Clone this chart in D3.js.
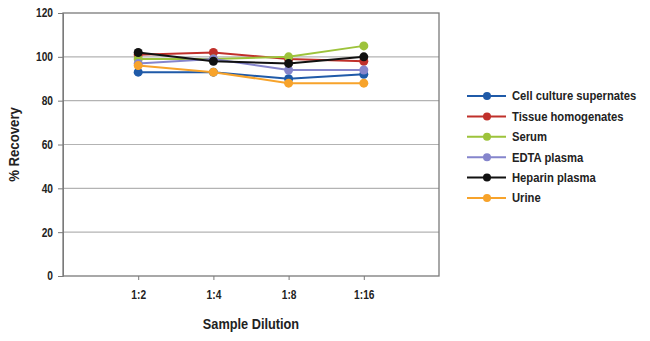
<!DOCTYPE html>
<html><head><meta charset="utf-8">
<script src="https://cdn.jsdelivr.net/npm/d3@7"></script>
<style>body{margin:0;background:#fff;}
text{font-family:"Liberation Sans",Arial,sans-serif;font-weight:bold;fill:#222;}
.sl{transform-box:fill-box;transform:scaleX(0.9);transform-origin:left center;}
.sr{transform-box:fill-box;transform:scaleX(0.85);transform-origin:right center;}
.sc{transform-box:fill-box;transform:scaleX(0.85);transform-origin:center center;}
</style>
</head><body><svg id="c" width="650" height="341"></svg>
<script>
const categories = ["1:2","1:4","1:8","1:16"];
const seriesNames = ["Cell culture supernates","Tissue homogenates","Serum","EDTA plasma","Heparin plasma","Urine"];
const seriesColors = ["#1f5aa8","#c0302b","#9dc33b","#8585cc","#111111","#f7a32b"];
const cellCulture = [93,93,90,92];
const tissue = [101,102,99,98];
const serum = [99,99,100,105];
const edta = [97,99,94,94];
const heparin = [102,98,97,100];
const urine = [96,93,88,88];
const yTicks = [0,20,40,60,80,100,120];
const seriesValues = [cellCulture,tissue,serum,edta,heparin,urine];

const svg = d3.select("#c");
const L=63,R=439,T=13,B=276;
const x = d3.scaleLinear().domain([0,categories.length+1]).range([L,R]);
const y = d3.scaleLinear().domain([0,120]).range([B,T]);

svg.append("g").selectAll("line").data(yTicks.filter(d=>d>0&&d<120)).join("line")
  .attr("x1",L).attr("x2",R).attr("y1",d=>y(d)).attr("y2",d=>y(d))
  .attr("stroke","#b3b3b3").attr("stroke-width",1.2);
svg.append("rect").attr("x",L).attr("y",T).attr("width",R-L).attr("height",B-T)
  .attr("fill","none").attr("stroke","#7a7a7a").attr("stroke-width",1.3);

const ya = svg.append("g").attr("transform",`translate(${L},0)`)
  .call(d3.axisLeft(y).tickValues(yTicks).tickSize(5).tickPadding(5));
ya.select(".domain").attr("stroke","#7a7a7a");
ya.selectAll("line").attr("stroke","#7a7a7a");
ya.selectAll("text").attr("font-size","12px").attr("font-family",null).attr("class","sr");

const xa = svg.append("g").attr("transform",`translate(0,${B})`)
  .call(d3.axisBottom(x).tickValues(categories.map((c,i)=>i+1)).tickFormat((d)=>categories[d-1]).tickSize(4).tickPadding(10));
xa.select(".domain").remove();
xa.selectAll("line").attr("stroke","#7a7a7a");
xa.selectAll("text").attr("font-size","12px").attr("font-family",null).attr("class","sc");

svg.append("g").attr("transform",`translate(19,${(T+B)/2}) rotate(-90) scale(0.88,1)`)
  .append("text").attr("text-anchor","middle").attr("font-size","15px").text("% Recovery");
svg.append("text").attr("x",251).attr("y",329).attr("text-anchor","middle").attr("class","sc")
  .attr("font-size","15px").text("Sample Dilution");

const line = d3.line().x((d,i)=>x(i+1)).y(d=>y(d));
seriesValues.forEach((vals,s)=>{
  const g = svg.append("g");
  g.append("path").attr("d",line(vals)).attr("fill","none").attr("stroke",seriesColors[s]).attr("stroke-width",2);
  g.selectAll("circle").data(vals).join("circle").attr("cx",(d,i)=>x(i+1)).attr("cy",d=>y(d))
    .attr("r",4.5).attr("fill",seriesColors[s]);
});

const lg = svg.append("g");
seriesNames.forEach((n,i)=>{
  const yy = 96 + i*20.4;
  lg.append("line").attr("x1",467).attr("x2",506).attr("y1",yy).attr("y2",yy).attr("stroke",seriesColors[i]).attr("stroke-width",2);
  lg.append("circle").attr("cx",487).attr("cy",yy).attr("r",4).attr("fill",seriesColors[i]);
  lg.append("text").attr("x",512).attr("y",yy+4.5).attr("font-size","12.5px").attr("class","sl").text(n);
});
</script></body></html>
